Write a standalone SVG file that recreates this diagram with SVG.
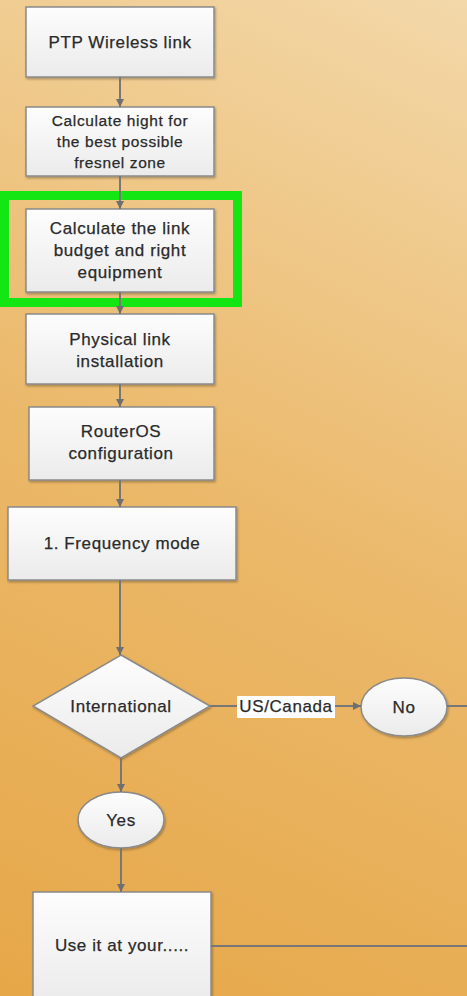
<svg xmlns="http://www.w3.org/2000/svg" width="467" height="996" viewBox="0 0 467 996">
<defs>
<linearGradient id="bg" x1="0" y1="996" x2="467" y2="0" gradientUnits="userSpaceOnUse">
<stop offset="0" stop-color="#e6a748"/>
<stop offset="0.5" stop-color="#ebb96b"/>
<stop offset="1" stop-color="#f3d8a9"/>
</linearGradient>
<linearGradient id="nf" x1="0" y1="0" x2="0" y2="1">
<stop offset="0" stop-color="#fdfdfd"/>
<stop offset="1" stop-color="#ebebeb"/>
</linearGradient>
<filter id="sh" x="-10%" y="-10%" width="130%" height="130%">
<feDropShadow dx="1" dy="1.5" stdDeviation="1.2" flood-color="#000" flood-opacity="0.3"/>
</filter>
<marker id="ah" viewBox="0 0 10 10" refX="10" refY="5" markerWidth="8" markerHeight="9" markerUnits="userSpaceOnUse" orient="auto">
<path d="M0,0 L10,5 L0,10 z" fill="#6f6f6f"/>
</marker>
<style>
.n{fill:url(#nf);stroke:#8a8a8a;stroke-width:1.5;filter:url(#sh)}
.t{font-family:"Liberation Sans",Arial,sans-serif;font-size:17px;letter-spacing:0.6px;fill:#2a2a2a;stroke:#2a2a2a;stroke-width:0.25;text-anchor:middle}
.s{font-size:15.5px}
.c{fill:none;stroke:#777;stroke-width:2}
</style>
</defs>
<rect x="0" y="0" width="467" height="996" fill="url(#bg)"/>
<rect x="4.5" y="195.5" width="233" height="107" fill="none" stroke="#14e614" stroke-width="9"/>
<g id="n1"><rect class="n" x="26" y="7" width="188" height="70"/><text class="t" x="120" y="48">PTP Wireless link</text></g>
<g id="n2"><rect class="n" x="26" y="107" width="188" height="69"/><text class="t s" x="120" y="126">Calculate hight for</text><text class="t s" x="120" y="147">the best possible</text><text class="t s" x="120" y="168">fresnel zone</text></g>
<g id="n3"><rect class="n" x="26" y="209" width="188" height="83"/><text class="t" x="120" y="234">Calculate the link</text><text class="t" x="120" y="256">budget and right</text><text class="t" x="120" y="278">equipment</text></g>
<g id="n4"><rect class="n" x="26" y="314" width="188" height="70"/><text class="t" x="120" y="345">Physical link</text><text class="t" x="120" y="367">installation</text></g>
<g id="n5"><rect class="n" x="29" y="407" width="185" height="73"/><text class="t" x="121" y="437">RouterOS</text><text class="t" x="121" y="459">configuration</text></g>
<g id="n6"><rect class="n" x="8" y="507" width="228" height="73"/><text class="t" x="122" y="549">1. Frequency mode</text></g>
<g id="n7"><polygon class="n" points="121,655 210,706 121,758 33,706"/><text class="t" x="121" y="712">International</text></g>
<g id="n8"><ellipse class="n" cx="404" cy="707" rx="43" ry="29"/><text class="t" x="404" y="713">No</text></g>
<g id="n9"><ellipse class="n" cx="121" cy="820" rx="43" ry="28"/><text class="t" x="121" y="826">Yes</text></g>
<g id="n10"><rect class="n" x="33" y="892" width="178" height="110"/><text class="t" x="122" y="951">Use it at your.....</text></g>
<g id="connectors">
<line class="c" x1="120" y1="77" x2="120" y2="107" marker-end="url(#ah)"/>
<line class="c" x1="120" y1="176" x2="120" y2="209" marker-end="url(#ah)"/>
<line class="c" x1="120" y1="292" x2="120" y2="314" marker-end="url(#ah)"/>
<line class="c" x1="120" y1="384" x2="120" y2="407" marker-end="url(#ah)"/>
<line class="c" x1="120" y1="480" x2="120" y2="507" marker-end="url(#ah)"/>
<line class="c" x1="120" y1="580" x2="120" y2="655" marker-end="url(#ah)"/>
<line class="c" x1="210" y1="706" x2="361" y2="706" marker-end="url(#ah)"/>
<rect x="237" y="696" width="98" height="22" fill="#fff"/>
<text class="t" x="286" y="712">US/Canada</text>
<line class="c" x1="447" y1="706" x2="467" y2="706"/>
<line class="c" x1="121" y1="758" x2="121" y2="792" marker-end="url(#ah)"/>
<line class="c" x1="121" y1="848" x2="121" y2="892" marker-end="url(#ah)"/>
<line class="c" x1="211" y1="946" x2="467" y2="946"/>
</g>
</svg>
